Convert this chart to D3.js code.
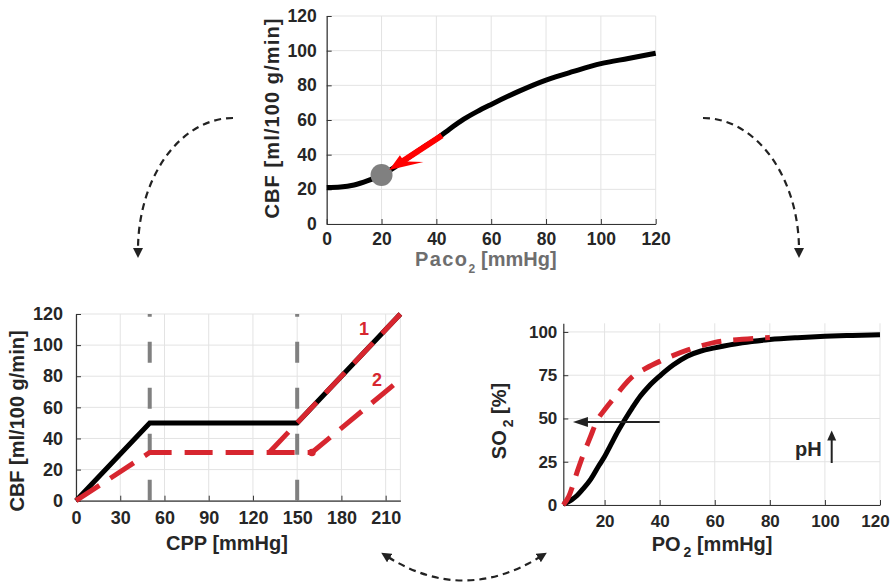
<!DOCTYPE html>
<html>
<head>
<meta charset="utf-8">
<script src="https://cdn.jsdelivr.net/npm/d3@7"></script>
<style>
  body { margin: 0; background: #fff; }
  svg text { font-family: "Liberation Sans", Arial, sans-serif; font-weight: bold; }
</style>
</head>
<body>
<div id="d3-container"></div>
<script>
/**
 * CONSTANTS AND GLOBALS
 * */
const width = 892,
  height = 586;

const gridColor = "#e3e3e3",
  axisColor = "#333",
  textColor = "#262626",
  red = "#d7262f";

// top panel: CBF vs PaCO2
const paco2 = [0, 5, 10, 15, 20, 25, 30, 35, 40, 45, 50, 55, 60, 70, 80, 90, 100, 110, 120];
const cbfCo2 = [21, 21.3, 22.5, 25, 28.3, 33, 38.5, 44, 49, 55, 60.5, 65, 69, 76.5, 83, 88, 92.5, 95.5, 98.5];
const co2Point = [20, 28.3];
const co2ArrowFrom = [42, 51];
const co2ArrowTo = [22.8, 31.2];
const co2Ticks = [0, 20, 40, 60, 80, 100, 120];
const cbfTicks = [0, 20, 40, 60, 80, 100, 120];

// bottom left: autoregulation, CBF vs CPP
const cpp = [0, 50, 150, 220];
const cbfNormal = [0, 50, 50, 120];
const cpp1 = [131, 220];
const cbf1 = [31, 120];
const cpp2 = [0, 50, 160, 220];
const cbf2 = [0, 31, 31, 78];
const cppLimits = [50, 150];
const cppTicks = [0, 30, 60, 90, 120, 150, 180, 210];
const cppGrid = [0, 30, 60, 90, 120, 150, 180, 210, 220];

// bottom right: oxygen dissociation curve
const po2 = [5, 8, 10, 12, 15, 18, 20, 22, 25, 28, 30, 33, 36, 40, 45, 50, 55, 60, 70, 80, 90, 100, 110, 120];
const so2Normal = [0.5, 3, 5.5, 9, 15, 23, 28, 34, 43, 51, 56, 63, 68.5, 74.5, 81, 86, 89, 90.8, 93.8, 95.6, 96.7, 97.5, 98, 98.4];
const po2Shift = [5, 7, 10, 12, 15, 17, 20, 24, 27, 30, 35, 40, 45, 50, 55, 60, 70, 80];
const so2Shift = [0, 5, 19, 28, 40, 48, 55, 63, 69, 74, 79, 83, 86.5, 89.5, 92, 94, 95.8, 96.8];
const po2Ticks = [20, 40, 60, 80, 100, 120];
const so2Ticks = [0, 25, 50, 75, 100];
const p50Arrow = [40, 8.5, 48]; // from x, to x, at y

let svg;

init();

function panel(o) {
  const x = d3.scaleLinear().domain(o.xDomain).range([o.left, o.right]);
  const y = d3.scaleLinear().domain(o.yDomain).range([o.bottom, o.top]);
  const g = svg.append("g");

  g.append("g")
    .selectAll("line")
    .data(o.xGrid)
    .join("line")
    .attr("x1", d => x(d)).attr("x2", d => x(d))
    .attr("y1", o.top).attr("y2", o.bottom)
    .attr("stroke", gridColor);

  g.append("g")
    .selectAll("line")
    .data(o.yGrid)
    .join("line")
    .attr("x1", o.left).attr("x2", o.right)
    .attr("y1", d => y(d)).attr("y2", d => y(d))
    .attr("stroke", gridColor);

  const xAxis = g.append("g")
    .attr("transform", `translate(0,${o.bottom})`)
    .call(d3.axisBottom(x).tickValues(o.xTicks).tickSize(-5).tickSizeOuter(0).tickPadding(o.xPad));
  const yAxis = g.append("g")
    .attr("transform", `translate(${o.left},0)`)
    .call(d3.axisLeft(y).tickValues(o.yTicks).tickSize(-5).tickSizeOuter(0).tickPadding(o.yPad));

  [xAxis, yAxis].forEach(a => {
    a.select(".domain").attr("stroke", axisColor).attr("stroke-width", 1.2);
    a.selectAll(".tick line").attr("stroke", axisColor);
    a.selectAll(".tick text")
      .attr("fill", textColor)
      .style("font-size", o.fontSize + "px");
  });
  return { x, y, g, xAxis, yAxis };
}

function init() {
  svg = d3.select("#d3-container")
    .append("svg")
    .attr("width", width)
    .attr("height", height);

  const defs = svg.append("defs");
  defs.append("marker")
    .attr("id", "head")
    .attr("viewBox", "0 -5 10 10")
    .attr("refX", 2)
    .attr("refY", 0)
    .attr("markerWidth", 10)
    .attr("markerHeight", 10)
    .attr("markerUnits", "userSpaceOnUse")
    .attr("orient", "auto-start-reverse")
    .append("path")
    .attr("d", "M0,-5L10,0L0,5Z")
    .attr("fill", "#222");

  /* ---------- top panel ---------- */
  const top = panel({
    left: 326.7, right: 655.7, top: 16, bottom: 224,
    xDomain: [0, 120], yDomain: [0, 120],
    xGrid: co2Ticks, yGrid: cbfTicks, xTicks: co2Ticks, yTicks: cbfTicks,
    xPad: 9, yPad: 10, fontSize: 17.5
  });

  top.g.append("path")
    .datum(d3.zip(paco2, cbfCo2))
    .attr("fill", "none")
    .attr("stroke", "#000")
    .attr("stroke-width", 5)
    .attr("d", d3.line().x(d => top.x(d[0])).y(d => top.y(d[1])).curve(d3.curveMonotoneX));

  top.g.append("circle")
    .attr("cx", top.x(co2Point[0]))
    .attr("cy", top.y(co2Point[1]))
    .attr("r", 11)
    .attr("fill", "#808080");

  // red arrow down the curve
  const p0 = [top.x(co2ArrowFrom[0]), top.y(co2ArrowFrom[1])],
    p1 = [top.x(co2ArrowTo[0]), top.y(co2ArrowTo[1])];
  const ang = Math.atan2(p0[1] - p1[1], p0[0] - p1[0]);
  top.g.append("line")
    .attr("x1", p0[0]).attr("y1", p0[1])
    .attr("x2", p1[0] + 15 * Math.cos(ang)).attr("y2", p1[1] + 15 * Math.sin(ang))
    .attr("stroke", "#ff0000")
    .attr("stroke-width", 6);
  top.g.append("polygon")
    .attr("transform", `translate(${p1[0]},${p1[1]}) rotate(${ang * 180 / Math.PI})`)
    .attr("points", "0,0 17,-6.5 17,-3 20,3 33,12")
    .attr("fill", "#ff0000");

  svg.append("text")
    .attr("transform", "translate(279,118) rotate(-90)")
    .attr("text-anchor", "middle")
    .attr("fill", textColor)
    .style("font-size", "20px")
    .style("letter-spacing", "1.1px")
    .text("CBF [ml/100 g/min]");

  const coLabel = svg.append("text")
    .attr("x", 415)
    .attr("y", 266)
    .attr("fill", "#6e6e6e")
    .style("font-size", "20px");
  coLabel.append("tspan").style("letter-spacing", "1.4px").text("Paco");
  coLabel.append("tspan").attr("dy", 7).style("font-size", "12px").text("2");
  coLabel.append("tspan").attr("dy", -7).attr("dx", 6).text("[mmHg]");

  /* ---------- bottom left panel ---------- */
  const bl = panel({
    left: 76, right: 400.4, top: 314, bottom: 500.7,
    xDomain: [0, 220], yDomain: [0, 120],
    xGrid: cppGrid, yGrid: cbfTicks, xTicks: cppTicks, yTicks: cbfTicks,
    xPad: 11, yPad: 13, fontSize: 18
  });

  bl.g.append("g")
    .selectAll("line")
    .data(cppLimits)
    .join("line")
    .attr("x1", d => bl.x(d)).attr("x2", d => bl.x(d))
    .attr("y1", bl.y(0)).attr("y2", bl.y(120))
    .attr("stroke", "#808080")
    .attr("stroke-width", 4)
    .attr("stroke-dasharray", "21,25");

  const lineBL = d3.line().x(d => bl.x(d[0])).y(d => bl.y(d[1]));

  bl.g.append("path")
    .datum(d3.zip(cpp, cbfNormal))
    .attr("fill", "none")
    .attr("stroke", "#000")
    .attr("stroke-width", 5)
    .attr("d", lineBL);

  bl.g.selectAll("path.red")
    .data([d3.zip(cpp2, cbf2), d3.zip(cpp1, cbf1)])
    .join("path")
    .attr("class", "red")
    .attr("fill", "none")
    .attr("stroke", red)
    .attr("stroke-width", 5)
    .attr("stroke-dasharray", "28,13")
    .attr("d", lineBL);

  bl.g.append("circle")
    .attr("cx", bl.x(cpp2[2]))
    .attr("cy", bl.y(cbf2[2]))
    .attr("r", 3.8)
    .attr("fill", red);

  bl.g.append("text").attr("x", 364).attr("y", 335).attr("text-anchor", "middle")
    .attr("fill", red).style("font-size", "18px").text("1");
  bl.g.append("text").attr("x", 377).attr("y", 386).attr("text-anchor", "middle")
    .attr("fill", red).style("font-size", "18px").text("2");

  svg.append("text")
    .attr("transform", "translate(24,421) rotate(-90)")
    .attr("text-anchor", "middle")
    .attr("fill", textColor)
    .style("font-size", "20px")
    .text("CBF [ml/100 g/min]");

  svg.append("text")
    .attr("x", 227)
    .attr("y", 550)
    .attr("text-anchor", "middle")
    .attr("fill", textColor)
    .style("font-size", "20px")
    .text("CPP [mmHg]");

  /* ---------- bottom right panel ---------- */
  const br = panel({
    left: 563.3, right: 880, top: 323.3, bottom: 505,
    xDomain: [5, 120], yDomain: [0, 105],
    xGrid: po2Ticks, yGrid: so2Ticks, xTicks: po2Ticks, yTicks: so2Ticks,
    xPad: 10, yPad: 6, fontSize: 17
  });
  // last label sits a little inside the page edge
  br.xAxis.selectAll(".tick text").filter(d => d === 120).attr("dx", -5);

  const lineBR = d3.line().x(d => br.x(d[0])).y(d => br.y(d[1])).curve(d3.curveMonotoneX);

  br.g.append("path")
    .datum(d3.zip(po2, so2Normal))
    .attr("fill", "none")
    .attr("stroke", "#000")
    .attr("stroke-width", 5)
    .attr("d", lineBR);

  br.g.append("path")
    .datum(d3.zip(po2Shift, so2Shift))
    .attr("fill", "none")
    .attr("stroke", red)
    .attr("stroke-width", 5)
    .attr("stroke-dasharray", "20,12")
    .attr("d", lineBR);

  // P50 shift arrow
  const ay = br.y(p50Arrow[2]);
  br.g.append("line")
    .attr("x1", br.x(p50Arrow[0])).attr("x2", br.x(p50Arrow[1]) + 12)
    .attr("y1", ay).attr("y2", ay)
    .attr("stroke", "#222").attr("stroke-width", 2);
  br.g.append("path")
    .attr("d", `M${br.x(p50Arrow[1])},${ay}l15,-5l0,10z`)
    .attr("fill", "#222");

  // pH up arrow
  br.g.append("text").attr("x", 795).attr("y", 456)
    .attr("fill", textColor).style("font-size", "20px").text("pH");
  br.g.append("line")
    .attr("x1", 831.7).attr("x2", 831.7).attr("y1", 463).attr("y2", 438)
    .attr("stroke", "#222").attr("stroke-width", 2);
  br.g.append("path")
    .attr("d", "M831.7,430.5l-4.5,10l9,0z")
    .attr("fill", "#222");

  const soLabel = svg.append("text")
    .attr("transform", "translate(506,421) rotate(-90)")
    .attr("text-anchor", "middle")
    .attr("fill", textColor)
    .style("font-size", "20px");
  soLabel.append("tspan").text("SO");
  soLabel.append("tspan").attr("dx", 3).attr("dy", 7).style("font-size", "14px").text("2");
  soLabel.append("tspan").attr("dy", -7).text(" [%]");

  const poLabel = svg.append("text")
    .attr("x", 651.7)
    .attr("y", 551)
    .attr("fill", textColor)
    .style("font-size", "20px");
  poLabel.append("tspan").text("PO");
  poLabel.append("tspan").attr("dx", 3).attr("dy", 6).style("font-size", "14px").text("2");
  poLabel.append("tspan").attr("dy", -6).text(" [mmHg]");

  /* ---------- dashed connector arrows ---------- */
  const connectors = [
    "M233,118 A95,132 0 0 0 138,250",
    "M703,118 A96,132 0 0 1 799,250",
    "M388,557 Q463,604 540,557"
  ];
  svg.append("g")
    .selectAll("path")
    .data(connectors)
    .join("path")
    .attr("d", d => d)
    .attr("fill", "none")
    .attr("stroke", "#222")
    .attr("stroke-width", 2.2)
    .attr("stroke-dasharray", "7,5")
    .attr("marker-end", "url(#head)")
    .attr("marker-start", (d, i) => i === 2 ? "url(#head)" : null);
}
</script>
</body>
</html>
